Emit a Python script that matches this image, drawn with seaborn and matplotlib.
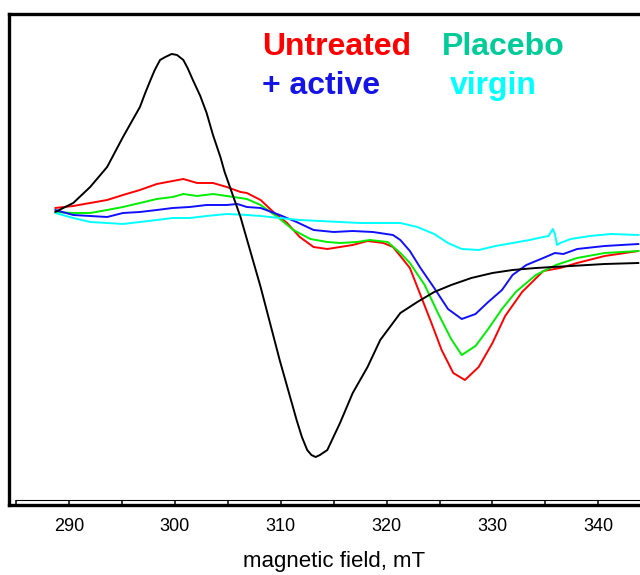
import pandas as pd
import matplotlib
matplotlib.use("Agg")
import matplotlib.pyplot as plt
import seaborn as sns

# magnetic field (mT) and signal (arbitrary units)
black_x = [288.7, 290.4, 292.0, 293.6, 295.1, 295.9, 296.7, 297.2, 297.7, 298.1, 298.6, 299.1,
           299.7, 300.2, 300.8, 301.2, 301.7, 302.4, 303.0, 303.6, 304.3, 304.7, 305.2, 306.2,
           308.1, 309.9, 311.5, 312.0, 312.5, 312.9, 313.3, 313.7, 314.4, 315.6, 316.8, 318.2,
           319.4, 321.3, 322.9, 324.5, 326.1, 328.0, 330.0, 331.9, 334.1, 335.7, 337.4, 340.6,
           343.8]
black_y = [0, 9, 25, 45, 75, 90, 105, 119, 132, 142, 152, 155,
           158, 157, 152, 144, 132, 116, 99, 77, 55, 40, 25, -5,
           -75, -148, -208, -225, -238, -243, -245, -243, -238, -211, -181, -155,
           -128, -101, -90, -80, -73, -66, -61, -58, -56, -55, -54, -52,
           -51]

untreated_x = [288.7, 290.4, 292.0, 293.6, 295.1, 296.7, 298.3, 299.8, 300.8, 302.1, 303.6, 304.9,
               306.2, 306.8, 308.1, 309.3, 310.6, 311.8, 313.1, 314.4, 315.6, 316.8, 318.2, 319.7,
               320.6, 321.3, 322.2, 323.2, 324.2, 325.2, 326.3, 327.4, 328.7, 330.0, 331.2, 332.8,
               334.8, 336.4, 338.0, 340.6, 343.8]
untreated_y = [4, 6, 9, 12, 17, 22, 28, 31, 33, 29, 29, 25,
               20, 19, 12, 0, -11, -25, -35, -37, -35, -33, -29, -31,
               -35, -44, -56, -83, -110, -138, -161, -168, -155, -131, -104, -80,
               -59, -56, -51, -44, -39]

placebo_x = [288.7, 290.4, 292.0, 293.6, 295.1, 296.7, 298.3, 299.8, 300.8, 302.1, 303.6, 304.9,
             306.8, 308.1, 309.7, 311.2, 312.8, 314.4, 315.6, 317.2, 318.4, 320.1, 321.3, 322.2,
             323.6, 324.8, 326.1, 327.1, 328.4, 329.6, 330.9, 332.2, 334.1, 336.0, 338.0, 340.6, 343.8]
placebo_y = [0, -1, -1, 2, 5, 9, 13, 15, 18, 16, 18, 16,
             13, 7, -5, -18, -27, -30, -31, -30, -28, -30, -41, -51,
             -73, -100, -127, -143, -134, -117, -97, -80, -63, -53, -46, -41, -39]

active_x = [288.7, 290.4, 292.0, 293.6, 295.1, 296.7, 298.3, 299.8, 301.4, 303.0, 304.9, 305.9,
            306.8, 308.1, 309.9, 311.5, 313.1, 315.0, 316.8, 318.7, 320.6, 321.3, 322.2, 323.2,
            324.5, 325.8, 327.1, 328.4, 329.6, 330.9, 331.9, 333.2, 334.8, 335.9, 336.7, 338.0,
            340.6, 343.8]
active_y = [2, -3, -4, -5, -1, 0, 2, 4, 5, 7, 7, 8,
            5, 4, -3, -10, -18, -20, -19, -20, -23, -28, -39, -56,
            -76, -97, -107, -102, -90, -78, -63, -53, -46, -41, -42, -37,
            -34, -32]

virgin_x = [288.7, 290.4, 292.0, 293.6, 295.1, 296.7, 298.3, 299.8, 301.4, 303.0, 304.9, 306.8,
            308.1, 309.9, 311.8, 313.7, 315.6, 317.5, 319.4, 321.3, 322.9, 324.5, 325.8, 327.1,
            328.7, 330.3, 331.9, 333.5, 334.8, 335.3, 335.7, 335.9, 336.1, 336.4, 337.4, 339.2,
            341.2, 343.8]
virgin_y = [-1, -6, -10, -11, -12, -10, -8, -6, -6, -4, -2, -3,
            -4, -6, -8, -9, -10, -11, -11, -11, -15, -22, -31, -37,
            -38, -34, -31, -28, -25, -24, -17, -22, -33, -31, -27, -24,
            -22, -23]

major_ticks = [290, 300, 310, 320, 330, 340]
minor_ticks = [285, 295, 305, 315, 325, 335, 345]

sns.set_style("white")
plt.rcParams['font.family'] = ['Liberation Sans', 'DejaVu Sans']

fig = plt.figure(figsize=(6.4, 5.75), dpi=100)
ax = fig.add_axes([0.0147, 0.1217, 1.0156, 0.854])

series = [(untreated_x, untreated_y, "#ff0000"),
          (placebo_x, placebo_y, "#00ee00"),
          (active_x, active_y, "#1010ff"),
          (virgin_x, virgin_y, "#00ffff"),
          (black_x, black_y, "black")]
for xs, ys, col in series:
    df = pd.DataFrame({"field": xs, "signal": ys})
    sns.lineplot(data=df, x="field", y="signal", color=col, lw=1.4,
                 sort=False, estimator=None, ax=ax)

ax.set_xlim(284.37, 345.77)
ax.set_ylim(-293, 198)
ax.set_xticks(major_ticks)
ax.set_xticks(minor_ticks, minor=True)
ax.set_yticks([])
ax.tick_params(axis="x", which="both", bottom=True, direction="in", length=3.6,
               width=1.1, color="black", labelcolor="black", labelsize=13, pad=9)
ax.set_xlabel("magnetic field, mT", fontsize=16, labelpad=12, color="black")
ax.set_ylabel("")

# thin line closing the tick strip
ax.plot([285, 346], [0.0102, 0.0102], color="black", lw=0.8,
        transform=ax.get_xaxis_transform(), clip_on=False)

for side in ["left", "bottom", "top"]:
    ax.spines[side].set_visible(True)
    ax.spines[side].set_color("black")
    ax.spines[side].set_linewidth(2.4)
ax.spines["right"].set_visible(False)

txt = dict(transform=ax.transAxes, fontsize=23, fontweight="bold", va="baseline")
ax.text(0.389, 0.9165, "Untreated", color="#ff0000", **txt)
ax.text(0.666, 0.9165, "Placebo", color="#00cc99", **txt)
ax.text(0.389, 0.837, "+ active", color="#1414e6", **txt)
ax.text(0.678, 0.837, "virgin", color="#00ffff", **txt)

fig.savefig("out.png", dpi=100)
